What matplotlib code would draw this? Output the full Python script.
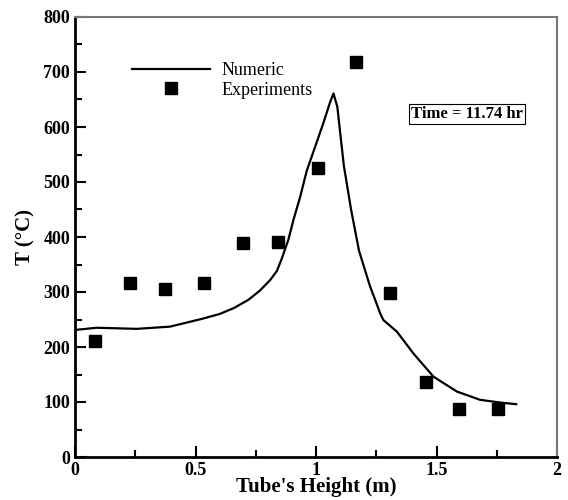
import numpy as np
import matplotlib.pyplot as plt
from matplotlib.ticker import MultipleLocator

# numeric solution
x_num = [0.0, 0.09, 0.256, 0.394, 0.525, 0.6, 0.66, 0.72, 0.768, 0.81,
         0.837, 0.858, 0.885, 0.906, 0.934, 0.961, 0.996, 1.030, 1.058,
         1.072, 1.088, 1.115, 1.145, 1.178, 1.224, 1.250, 1.266, 1.279,
         1.335, 1.404, 1.487, 1.584, 1.68, 1.763, 1.83]
T_num = [231, 235, 233, 237, 251, 260, 271, 286, 303, 322,
         338, 361, 395, 431, 473, 520, 564, 607, 645,
         661, 637, 530, 450, 375, 310, 280, 261, 249,
         228, 188, 146, 119, 104, 99, 96]

# experiments
x_exp = [0.083, 0.228, 0.373, 0.535, 0.697, 0.843, 1.007, 1.166, 1.307, 1.455, 1.593, 1.755]
T_exp = [211, 317, 306, 317, 389, 391, 526, 719, 299, 137, 87, 87]

serif = ['Liberation Serif', 'DejaVu Serif']
plt.rcParams['font.family'] = serif

fig = plt.figure(figsize=(5.68, 5.0), dpi=100)
ax = fig.add_axes([0.132, 0.086, 0.849, 0.880])

ax.plot(x_num, T_num, color='black', lw=1.6, label='Numeric')
ax.plot(x_exp, T_exp, 's', color='black', ms=8.5, label='Experiments')

ax.set_xlim(0, 2)
ax.set_ylim(0, 800)
ax.xaxis.set_major_locator(MultipleLocator(0.5))
ax.xaxis.set_minor_locator(MultipleLocator(0.25))
ax.yaxis.set_major_locator(MultipleLocator(100))
ax.yaxis.set_minor_locator(MultipleLocator(50))
ax.set_xticks([0, 0.5, 1, 1.5, 2])
ax.set_xticklabels(['0', '0.5', '1', '1.5', '2'])

ax.tick_params(which='both', direction='in', top=False, right=False,
               labelsize=13, width=1.5)
ax.tick_params(which='major', length=8)
ax.tick_params(which='minor', length=5)
for lab in ax.get_xticklabels() + ax.get_yticklabels():
    lab.set_fontweight('bold')

for s in ['left', 'bottom']:
    ax.spines[s].set_linewidth(2)
for s in ['top', 'right']:
    ax.spines[s].set_color('#777777')
    ax.spines[s].set_linewidth(1.5)

ax.set_xlabel("Tube's Height (m)", fontsize=15, fontweight='bold', labelpad=-1)
ax.set_ylabel("T (\u00b0C)", fontsize=15, fontweight='bold', labelpad=6)

ax.legend(loc='upper left', bbox_to_anchor=(0.118, 0.898), frameon=False,
          borderpad=0, borderaxespad=0,
          fontsize=13, handlelength=4.3, handletextpad=0.65, labelspacing=0.15)

ax.text(0.813, 0.78, 'Time = 11.74 hr', transform=ax.transAxes, fontsize=12,
        fontweight='bold', ha='center', va='center',
        bbox=dict(boxstyle='square,pad=0.12', fc='white', ec='black', lw=0.8))

fig.savefig('out.png', dpi=100)
